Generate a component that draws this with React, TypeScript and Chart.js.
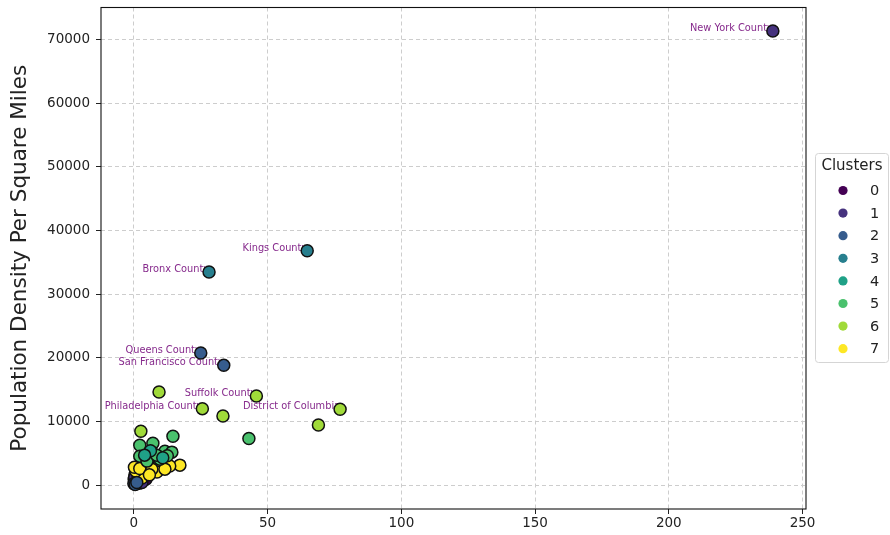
import { useEffect, useRef } from "react";
import { Chart, registerables } from "chart.js";

Chart.register(...registerables);

const clusterLabels = ["0", "1", "2", "3", "4", "5", "6", "7"];
const clusterColors = ["#440154", "#46327e", "#365c8d", "#277f8e", "#1fa187", "#4ac16d", "#a0da39", "#fde725"];

// Labelled counties: [area (x), density (y), cluster]
const countyNames = ["New York County", "Kings County", "Bronx County", "Queens County", "San Francisco County", "Suffolk County", "Philadelphia County", "District of Columbia"];
const countyX = [238.9, 64.8, 28.1, 25.0, 33.6, 45.8, 25.6, 77.1];
const countyY = [71300, 36800, 33450, 20750, 18800, 13980, 12000, 11900];
const countyCluster = [1, 3, 3, 2, 2, 6, 6, 6];

// Other (unlabelled) points per cluster: [x, y]
const cluster0: [number, number][] = [[0.2, 300], [0.6, 700], [1.0, 1100], [1.4, 500], [1.9, 900], [2.3, 1400], [0.4, 1600], [0.9, 2000], [2.8, 700], [3.3, 1100], [1.6, 1800], [0.1, 900], [2.0, 300], [3.8, 1600], [0.7, 2400], [4.5, 900]];
const cluster1: [number, number][] = [[1.2, 1300], [2.6, 1900], [0.3, 1200], [3.0, 400]];
const cluster2: [number, number][] = [[0.0, 200], [0.5, 100], [1.1, 400]];
const cluster3: [number, number][] = [];
const cluster4: [number, number][] = [[6.2, 5400], [10.8, 4300], [4.0, 4700]];
const cluster5: [number, number][] = [[2.2, 6260], [7.1, 6580], [14.6, 7670], [11.6, 5320], [14.2, 5170], [6.7, 5170], [2.2, 4540], [9.7, 4070], [4.9, 3760], [43.0, 7310], [8.5, 4700], [12.5, 4600]];
const cluster6: [number, number][] = [[9.4, 14610], [33.3, 10850], [69.0, 9440], [2.6, 8460]];
const cluster7: [number, number][] = [[17.2, 3130], [13.4, 2980], [9.0, 2980], [5.2, 3290], [4.1, 2040], [8.6, 2040], [11.6, 2500], [6.7, 2500], [1.5, 1570], [3.0, 1100], [0.7, 2200], [0.2, 2800], [2.2, 2600], [5.8, 1600]];
const clusterPoints = [cluster0, cluster1, cluster2, cluster3, cluster4, cluster5, cluster6, cluster7];

// draw order: later = drawn higher
const drawOrderBottomToTop = [0, 1, 7, 5, 4, 6, 3, 2];

const xTicks = [0, 50, 100, 150, 200, 250];
const yTicks = [0, 10000, 20000, 30000, 40000, 50000, 60000, 70000];
const yTitle = "Population Density Per Square Miles";
const legendTitle = "Clusters";

const FONT = "'DejaVu Sans', sans-serif";

export default function App() {
  const canvasRef = useRef<HTMLCanvasElement | null>(null);

  useEffect(() => {
    const canvas = canvasRef.current;
    if (!canvas) return;

    const datasets = clusterLabels.map((lab, ci) => {
      const pts = clusterPoints[ci].map(([x, y]) => ({ x, y }));
      countyNames.forEach((_, k) => {
        if (countyCluster[k] === ci) pts.push({ x: countyX[k], y: countyY[k] });
      });
      const rank = drawOrderBottomToTop.indexOf(ci);
      return {
        label: lab,
        data: pts,
        backgroundColor: clusterColors[ci],
        borderColor: "#111111",
        borderWidth: 1.5,
        pointRadius: 6,
        pointHoverRadius: 6,
        order: 10 - rank,
      };
    });

    const frameAndLabels = {
      id: "frameAndLabels",
      beforeDatasetsDraw(chart: any) {
        const { ctx } = chart;
        const xs = chart.scales.x;
        const ys = chart.scales.y;
        ctx.save();
        ctx.fillStyle = "#862a8c";
        ctx.font = `9.8px ${FONT}`;
        ctx.textAlign = "right";
        ctx.textBaseline = "alphabetic";
        countyNames.forEach((name, k) => {
          ctx.fillText(name, xs.getPixelForValue(countyX[k]), ys.getPixelForValue(countyY[k]));
        });
        ctx.restore();
      },
      afterDraw(chart: any) {
        const { ctx, chartArea } = chart;
        ctx.save();
        ctx.strokeStyle = "#111111";
        ctx.lineWidth = 1.1;
        ctx.strokeRect(chartArea.left, chartArea.top, chartArea.right - chartArea.left, chartArea.bottom - chartArea.top);

        // legend
        const bx = 815, by = 153, bw = 73, bh = 209;
        ctx.fillStyle = "rgba(255,255,255,0.85)";
        ctx.strokeStyle = "#d5d5d5";
        ctx.lineWidth = 1;
        ctx.beginPath();
        (ctx as any).roundRect(bx + 0.5, by + 0.5, bw, bh, 3);
        ctx.fill();
        ctx.stroke();
        ctx.fillStyle = "#222222";
        ctx.font = `15px ${FONT}`;
        ctx.textAlign = "center";
        ctx.textBaseline = "middle";
        ctx.fillText(legendTitle, 852, 166);
        ctx.font = `14.5px ${FONT}`;
        ctx.textAlign = "left";
        clusterLabels.forEach((lab, i) => {
          const cy = 190.5 + i * 22.6;
          ctx.beginPath();
          ctx.arc(843, cy, 4.6, 0, Math.PI * 2);
          ctx.fillStyle = clusterColors[i];
          ctx.fill();
          ctx.fillStyle = "#222222";
          ctx.fillText(lab, 870, cy + 1);
        });
        ctx.restore();
      },
    };

    const gridOpts = {
      color: "#cdcdcd",
      lineWidth: 1,
      tickLength: 5,
      tickColor: "#222222",
      tickWidth: 1,
      tickBorderDash: [],
    };

    const chart = new Chart(canvas, {
      type: "scatter",
      data: { datasets: datasets as any },
      options: {
        animation: false,
        responsive: false,
        events: [],
        layout: { padding: { top: 0, right: 84, left: 0, bottom: 0 } },
        plugins: {
          legend: { display: false },
          tooltip: { enabled: false },
        },
        scales: {
          x: {
            type: "linear",
            min: -12.3,
            max: 251.3,
            afterFit: (s: any) => { s.height = 26; },
            afterBuildTicks: (s: any) => { s.ticks = xTicks.map((v) => ({ value: v })); },
            ticks: {
              color: "#222222",
              font: { family: FONT, size: 13.5 },
              padding: 1,
              maxRotation: 0,
              autoSkip: false,
              callback: (v: any) => String(v),
            },
            grid: gridOpts,
            border: { display: false, dash: [4, 3] },
          },
          y: {
            type: "linear",
            min: -3760,
            max: 75000,
            afterFit: (s: any) => { s.width = 101; s.paddingTop = 0; s.paddingBottom = 0; },
            afterBuildTicks: (s: any) => { s.ticks = yTicks.map((v) => ({ value: v })); },
            ticks: {
              color: "#222222",
              font: { family: FONT, size: 13.5 },
              padding: 6,
              autoSkip: false,
              callback: (v: any) => String(v),
            },
            grid: gridOpts,
            border: { display: false, dash: [4, 3] },
            title: {
              display: true,
              text: yTitle,
              color: "#222222",
              font: { family: FONT, size: 21.5, weight: "normal" },
              padding: { top: 8, bottom: 0 },
            },
          },
        },
      },
      plugins: [frameAndLabels],
    });

    return () => chart.destroy();
  }, []);

  return (
    <div style={{ position: "absolute", left: 0, top: 0, width: 890, height: 535, background: "#ffffff" }}>
      <canvas ref={canvasRef} width={890} height={535} style={{ display: "block" }} />
    </div>
  );
}
